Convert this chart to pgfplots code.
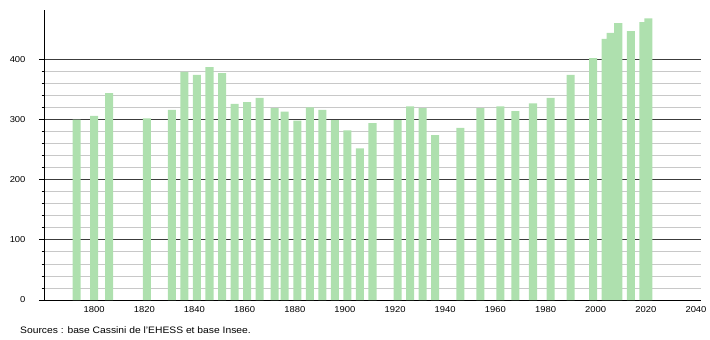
\documentclass[border=0pt]{standalone}
\usepackage{pgfplots}
\pgfplotsset{compat=1.18}
\usepackage{fontspec}
\setmainfont{Liberation Sans}[FakeStretch=1.1]
\definecolor{bargreen}{RGB}{174,224,174}
\definecolor{majgrid}{RGB}{60,60,60}
\definecolor{mingrid}{RGB}{200,200,200}
\begin{document}
\begin{tikzpicture}
\path[use as bounding box] (-44bp,-40bp) rectangle (666bp,300bp);
\begin{axis}[
  at={(0,0)}, anchor=south west,
  width=657bp, height=290bp, scale only axis,
  xmin=1780, xmax=2042, ymin=0, ymax=482,
  axis x line=bottom, axis y line=left,
  axis line style={-, black, line width=0.8bp},
  xtick={1800,1820,...,2040},
  x tick label style={/pgf/number format/1000 sep={}, yshift=2.5bp},
  y tick label style={xshift=-10bp},
  xtick style={draw=none},
  ytick={0,100,...,400},
  minor y tick num=4,
  tick align=outside,
  major tick length=5bp, minor tick length=2.5bp,
  ytick style={black, line width=0.8bp},
  ymajorgrids, yminorgrids,
  major grid style={majgrid, line width=0.8bp},
  minor grid style={mingrid, line width=0.8bp},
  /pgf/number format/assume math mode=true,
  tick label style={font=\fontsize{8.6}{10}\selectfont},
  ybar, bar width=3.2,
  clip=false,
]
\addplot[fill=bargreen, draw=none] coordinates {
(1793,300) (1800,306) (1806,344) (1821,302) (1831,316) (1836,379)
(1841,374) (1846,387) (1851,377) (1856,326) (1861,329) (1866,336)
(1872,319) (1876,313) (1881,298) (1886,320) (1891,316) (1896,299)
(1901,282) (1906,252) (1911,294) (1921,299) (1926,322) (1931,319)
(1936,274) (1946,286) (1954,319) (1962,322) (1968,314) (1975,327)
(1982,336) (1990,374) (1999,402) (2004,434) (2006,444) (2009,460)
(2014,447) (2019,462) (2021,468)
};
\end{axis}
\node[anchor=west, inner sep=0pt, font=\fontsize{9.4}{11}\selectfont] at (-24bp,-30bp) {Sources : base Cassini de l'EHESS et base Insee.};
\end{tikzpicture}
\end{document}
